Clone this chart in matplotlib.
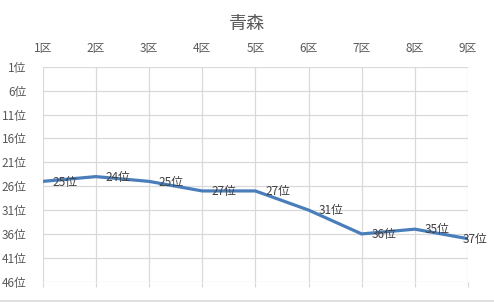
import matplotlib
matplotlib.use('Agg')
import matplotlib.pyplot as plt
from matplotlib.lines import Line2D

plt.rcParams['font.family'] = ['Noto Sans CJK JP', 'DejaVu Sans']

# data
districts = ['1区', '2区', '3区', '4区', '5区', '6区', '7区', '8区', '9区']
ranks = [25, 24, 25, 27, 27, 31, 36, 35, 37]
rank_ticks = [1, 6, 11, 16, 21, 26, 31, 36, 41, 46]
title = '青森'

text_color = '#595959'
grid_color = '#D9D9D9'
line_color = '#4A7EBB'

fig = plt.figure(figsize=(4.94, 3.02), dpi=100)
ax = fig.add_axes([0.0864, 0.0672, 0.8610, 0.7118])

x = list(range(len(districts)))
ax.plot(x, ranks, color=line_color, lw=2.3, solid_capstyle='round', zorder=3)

# data labels to the right of each point (last one pulled back inside)
for xi, r in zip(x, ranks):
    dx = 7 if xi < len(x) - 1 else -4
    ax.annotate(f'{r}位', (xi, r), xytext=(dx, -0.5), textcoords='offset points',
                ha='left', va='center', fontsize=8.5, color='#404040', zorder=4)

ax.set_xlim(0, len(districts) - 1)
ax.set_ylim(46, 1)
ax.set_xticks(x)
ax.set_xticklabels(districts)
ax.set_yticks(rank_ticks)
ax.set_yticklabels([f'{t}位' for t in rank_ticks])

ax.grid(True, color=grid_color, lw=0.9)
ax.set_axisbelow(True)
for s in ax.spines.values():
    s.set_visible(False)

ax.tick_params(axis='x', top=False, labeltop=True, bottom=True, labelbottom=False,
               length=3.5, width=0.9, color=grid_color, labelsize=8.5,
               labelcolor=text_color, pad=5)
ax.tick_params(axis='y', left=False, labelsize=8.5, labelcolor=text_color, pad=8)

fig.suptitle(title, y=0.95, fontsize=13, color=text_color)

# chart area bottom border
fig.add_artist(Line2D([0, 1], [0.003, 0.003], color=grid_color, lw=1.2,
                      transform=fig.transFigure))

fig.savefig('out.png', dpi=100)
